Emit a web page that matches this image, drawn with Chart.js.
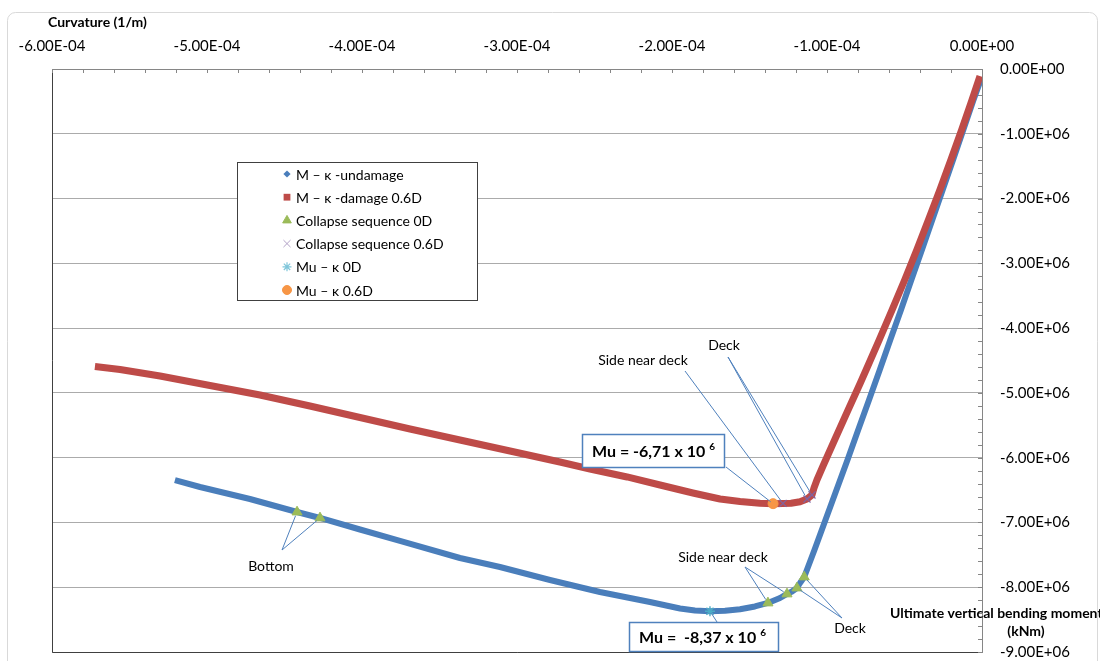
<!DOCTYPE html>
<html>
<head>
<meta charset="utf-8">
<title>Moment – curvature</title>
<script src="https://cdn.jsdelivr.net/npm/chart.js@4.4.1/dist/chart.umd.min.js"></script>
<style>
  html, body { margin: 0; padding: 0; background: #fff; }
  canvas { display: block; }
</style>
</head>
<body>
<canvas id="mk" width="1100" height="661"></canvas>
<script>
// Moment–curvature response of the hull girder (curvature in 1/m, moment in kNm)
const undamagedCurvature = [
  -0.006e-4, -0.055e-4, -0.121e-4, -0.187e-4, -0.254e-4, -0.321e-4, -0.388e-4, -0.456e-4,
  -0.523e-4, -0.592e-4, -0.660e-4, -0.729e-4, -0.799e-4, -0.868e-4, -0.939e-4, -1.010e-4,
  -1.081e-4, -1.147e-4, -1.174e-4, -1.194e-4, -1.226e-4, -1.258e-4, -1.303e-4, -1.381e-4,
  -1.465e-4, -1.561e-4, -1.658e-4, -1.755e-4, -1.852e-4, -1.948e-4, -2.142e-4, -2.465e-4,
  -2.787e-4, -3.110e-4, -3.368e-4, -3.755e-4, -4.013e-4, -4.271e-4, -4.419e-4, -4.723e-4,
  -5.045e-4, -5.207e-4
];
const undamagedMoment = [
  -0.154e6, -0.479e6, -0.942e6, -1.405e6, -1.868e6, -2.331e6, -2.794e6, -3.257e6,
  -3.720e6, -4.183e6, -4.647e6, -5.110e6, -5.573e6, -6.036e6, -6.499e6, -6.962e6,
  -7.425e6, -7.842e6, -7.935e6, -8.012e6, -8.066e6, -8.104e6, -8.166e6, -8.243e6,
  -8.297e6, -8.341e6, -8.364e6, -8.370e6, -8.359e6, -8.328e6, -8.228e6, -8.074e6,
  -7.888e6, -7.688e6, -7.549e6, -7.286e6, -7.109e6, -6.931e6, -6.839e6, -6.638e6,
  -6.453e6, -6.345e6
];

const damagedCurvature = [
  -0.013e-4, -0.065e-4, -0.132e-4, -0.201e-4, -0.272e-4, -0.346e-4, -0.421e-4, -0.499e-4,
  -0.580e-4, -0.663e-4, -0.748e-4, -0.785e-4, -0.864e-4, -0.951e-4, -1.023e-4, -1.065e-4,
  -1.084e-4, -1.097e-4, -1.129e-4, -1.174e-4, -1.232e-4, -1.284e-4, -1.348e-4, -1.432e-4,
  -1.561e-4, -1.690e-4, -1.865e-4, -2.077e-4, -2.290e-4, -2.529e-4, -2.723e-4, -3.045e-4,
  -3.368e-4, -3.690e-4, -4.013e-4, -4.336e-4, -4.658e-4, -4.981e-4, -5.303e-4, -5.561e-4,
  -5.723e-4
];
const damagedMoment = [
  -0.108e6, -0.479e6, -0.942e6, -1.405e6, -1.868e6, -2.331e6, -2.794e6, -3.257e6,
  -3.720e6, -4.183e6, -4.647e6, -4.847e6, -5.264e6, -5.727e6, -6.113e6, -6.345e6,
  -6.468e6, -6.576e6, -6.638e6, -6.681e6, -6.703e6, -6.706e6, -6.710e6, -6.703e6,
  -6.677e6, -6.638e6, -6.545e6, -6.422e6, -6.298e6, -6.175e6, -6.067e6, -5.897e6,
  -5.727e6, -5.557e6, -5.380e6, -5.202e6, -5.032e6, -4.886e6, -4.739e6, -4.639e6,
  -4.593e6
];

// Collapse sequence, intact hull: bottom (2), side near deck (2), deck (2)
const collapse0DCurvature = [-4.419e-4, -4.271e-4, -1.381e-4, -1.258e-4, -1.194e-4, -1.147e-4];
const collapse0DMoment    = [-6.839e6, -6.931e6, -8.243e6, -8.104e6, -8.012e6, -7.842e6];

// Collapse sequence, damaged hull: deck (2), side near deck (1)
const collapse06DCurvature = [-1.097e-4, -1.129e-4, -1.284e-4];
const collapse06DMoment    = [-6.576e6, -6.638e6, -6.706e6];

// Ultimate points
const mu0DCurvature  = [-1.755e-4];
const mu0DMoment     = [-8.37e6];
const mu06DCurvature = [-1.348e-4];
const mu06DMoment    = [-6.71e6];

// Axis ranges and ticks
const curvatureRange = [-6e-4, 0];
const curvatureStep = 1e-4;
const momentRange = [-9e6, 0];
const momentStep = 1e6;

const FONT = 'Lato, "Open Sans", "Liberation Sans", sans-serif';

function sci(v) {
  if (Math.abs(v) < 1e-15) v = 0;
  const parts = Number(v).toExponential(2).split('e');
  const e = parseInt(parts[1], 10);
  return parts[0] + 'E' + (e < 0 ? '-' : '+') + String(Math.abs(e)).padStart(2, '0');
}

function pts(xs, ys) {
  return xs.map((x, i) => ({ x: x, y: ys[i] }));
}

const drawPoint = Chart.helpers && Chart.helpers.drawPoint;

// Outer frame and white background
const framePlugin = {
  id: 'frame',
  beforeDraw(chart) {
    const ctx = chart.ctx;
    ctx.save();
    ctx.fillStyle = '#fff';
    ctx.fillRect(0, 0, chart.width, chart.height);
    ctx.strokeStyle = '#D9D9D9';
    ctx.lineWidth = 1;
    ctx.beginPath();
    ctx.roundRect(7.5, 12.5, 1090, 700, 8);
    ctx.stroke();
    ctx.restore();
  }
};

// Plot border (left/bottom) and small inward tick marks
const axisDecor = {
  id: 'axisDecor',
  beforeDatasetsDraw(chart) {
    const { x, y } = chart.scales;
    const ctx = chart.ctx;
    ctx.save();
    ctx.strokeStyle = '#404040';
    ctx.lineWidth = 1;
    ctx.beginPath();
    ctx.moveTo(Math.round(x.left) + 0.5, Math.round(y.top));
    ctx.lineTo(Math.round(x.left) + 0.5, Math.round(y.bottom) + 0.5);
    ctx.lineTo(Math.round(x.right), Math.round(y.bottom) + 0.5);
    ctx.stroke();

    ctx.strokeStyle = '#868686';
    ctx.beginPath();
    const nx = Math.round((x.max - x.min) / curvatureStep) * 5;
    for (let i = 0; i <= nx; i++) {
      const px = Math.round(x.getPixelForValue(x.min + i * (x.max - x.min) / nx)) + 0.5;
      ctx.moveTo(px, y.top);
      ctx.lineTo(px, y.top + 4);
    }
    const ny = Math.round((y.max - y.min) / momentStep) * 5;
    for (let i = 0; i <= ny; i++) {
      const py = Math.round(y.getPixelForValue(y.min + i * (y.max - y.min) / ny)) + 0.5;
      ctx.moveTo(x.right, py);
      ctx.lineTo(x.right - 4, py);
    }
    ctx.stroke();
    ctx.restore();
  }
};

// Leader-line callouts naming the collapsed members
const callouts = [
  { text: 'Side near deck', at: [643, 360], from: [685, 371], to: [['collapse06', 2]] },
  { text: 'Deck', at: [724, 345], from: [728, 357], to: [['collapse06', 1], ['collapse06', 0]] },
  { text: 'Side near deck', at: [723, 557], from: [745, 567], to: [['collapse0D', 2], ['collapse0D', 3]] },
  { text: 'Deck', at: [850, 628], from: [842, 618], to: [['collapse0D', 4], ['collapse0D', 5]] },
  { text: 'Bottom', at: [271, 566], from: [282, 550], to: [['collapse0D', 0], ['collapse0D', 1]] }
];
const muBoxes = [
  { main: 'Mu = -6,71 x 10', sup: '6', box: [582, 434, 142, 33], from: [726, 467], to: ['mu06D', 0] },
  { main: 'Mu =  -8,37 x 10', sup: '6', box: [629, 622, 149, 29], from: [717, 622], to: ['mu0D', 0] }
];

function markerPixel(chart, ref) {
  const idx = chart.data.datasets.findIndex(d => d.key === ref[0]);
  const p = chart.data.datasets[idx].data[ref[1]];
  return [chart.scales.x.getPixelForValue(p.x), chart.scales.y.getPixelForValue(p.y)];
}

function shorten(from, to, by) {
  const dx = to[0] - from[0], dy = to[1] - from[1];
  const len = Math.hypot(dx, dy);
  return [to[0] - dx / len * by, to[1] - dy / len * by];
}

const calloutPlugin = {
  id: 'callouts',
  afterDatasetsDraw(chart) {
    const ctx = chart.ctx;
    ctx.save();
    ctx.strokeStyle = '#4F81BD';
    ctx.lineWidth = 1;
    callouts.forEach(c => {
      c.to.forEach(ref => {
        const end = shorten(c.from, markerPixel(chart, ref), 4);
        ctx.beginPath();
        ctx.moveTo(c.from[0], c.from[1]);
        ctx.lineTo(end[0], end[1]);
        ctx.stroke();
      });
    });
    ctx.fillStyle = '#000';
    ctx.font = '14px ' + FONT;
    ctx.textAlign = 'center';
    ctx.textBaseline = 'middle';
    callouts.forEach(c => ctx.fillText(c.text, c.at[0], c.at[1]));

    muBoxes.forEach(m => {
      const end = shorten(m.from, markerPixel(chart, m.to), 3);
      ctx.strokeStyle = '#4F81BD';
      ctx.lineWidth = 1;
      ctx.beginPath();
      ctx.moveTo(m.from[0], m.from[1]);
      ctx.lineTo(end[0], end[1]);
      ctx.stroke();
      const [bx, by, bw, bh] = m.box;
      ctx.fillStyle = '#fff';
      ctx.fillRect(bx, by, bw, bh);
      ctx.lineWidth = 1.5;
      ctx.strokeRect(bx + 0.5, by + 0.5, bw, bh);
      ctx.fillStyle = '#000';
      ctx.textAlign = 'left';
      ctx.font = 'bold 16px ' + FONT;
      const tx = bx + 10, ty = by + bh / 2 + 1;
      ctx.fillText(m.main, tx, ty);
      const w = ctx.measureText(m.main).width;
      ctx.font = 'bold 10px ' + FONT;
      ctx.fillText(m.sup, tx + w + 4, ty - 5);
    });
    ctx.restore();
  }
};

// Legend box inside the plot, and the axis titles
const legendPlugin = {
  id: 'boxLegend',
  afterDraw(chart) {
    const ctx = chart.ctx;
    ctx.save();
    ctx.fillStyle = '#fff';
    ctx.fillRect(237, 162, 241, 139);
    ctx.strokeStyle = '#404040';
    ctx.lineWidth = 1;
    ctx.strokeRect(237.5, 162.5, 240, 138);
    ctx.font = '14px ' + FONT;
    ctx.textAlign = 'left';
    ctx.textBaseline = 'middle';
    chart.data.datasets.forEach((ds, i) => {
      const yy = 174 + i * 23.2;
      const mk = ds.legendMarker;
      ctx.fillStyle = ds.backgroundColor;
      ctx.strokeStyle = ds.legendMarker.stroke || ds.borderColor;
      ctx.lineWidth = mk.borderWidth;
      if (drawPoint) {
        drawPoint(ctx, { pointStyle: mk.pointStyle, radius: mk.radius, rotation: 0, borderWidth: mk.borderWidth }, 287, yy);
      }
      ctx.fillStyle = '#000';
      ctx.fillText(ds.label, 296, yy + 1);
    });

    ctx.font = 'bold 14px ' + FONT;
    ctx.fillText('Curvature (1/m)', 48, 22);
    ctx.fillText('Ultimate vertical bending moment', 890, 613);
    ctx.textAlign = 'center';
    ctx.fillText('(kNm)', 1026, 631);
    ctx.restore();
  }
};

new Chart(document.getElementById('mk'), {
  type: 'scatter',
  data: {
    datasets: [
      {
        key: 'undamaged', label: 'M – κ -undamage',
        data: pts(undamagedCurvature, undamagedMoment),
        showLine: true, borderColor: '#4A7EBB', backgroundColor: '#4A7EBB',
        borderWidth: 6, borderJoinStyle: 'round', pointRadius: 0, order: 6,
        legendMarker: { pointStyle: 'rectRot', radius: 3.6, borderWidth: 0 }
      },
      {
        key: 'damaged', label: 'M – κ -damage 0.6D',
        data: pts(damagedCurvature, damagedMoment),
        showLine: true, borderColor: '#BE4B48', backgroundColor: '#BE4B48',
        borderWidth: 7, borderJoinStyle: 'round', pointRadius: 0, order: 5,
        legendMarker: { pointStyle: 'rect', radius: 4.8, borderWidth: 0 }
      },
      {
        key: 'collapse0D', label: 'Collapse sequence 0D',
        data: pts(collapse0DCurvature, collapse0DMoment),
        borderColor: '#9BBB59', backgroundColor: '#9BBB59',
        pointStyle: 'triangle', pointRadius: 5.8, borderWidth: 1, order: 4,
        legendMarker: { pointStyle: 'triangle', radius: 5, borderWidth: 1 }
      },
      {
        key: 'collapse06', label: 'Collapse sequence 0.6D',
        data: pts(collapse06DCurvature, collapse06DMoment),
        borderColor: '#8064A2', backgroundColor: '#8064A2',
        pointStyle: 'crossRot', pointRadius: 5, borderWidth: 1.2, order: 3,
        legendMarker: { pointStyle: 'crossRot', radius: 5, borderWidth: 1, stroke: '#B3A2C7' }
      },
      {
        key: 'mu0D', label: 'Mu – κ 0D',
        data: pts(mu0DCurvature, mu0DMoment),
        borderColor: '#4BACC6', backgroundColor: '#4BACC6',
        pointStyle: 'star', pointRadius: 5, borderWidth: 1.4, order: 2,
        legendMarker: { pointStyle: 'star', radius: 4.5, borderWidth: 1.2, stroke: '#7FC6DA' }
      },
      {
        key: 'mu06D', label: 'Mu – κ 0.6D',
        data: pts(mu06DCurvature, mu06DMoment),
        borderColor: '#F79646', backgroundColor: '#F79646',
        pointStyle: 'circle', pointRadius: 5, borderWidth: 1, order: 1,
        legendMarker: { pointStyle: 'circle', radius: 4.5, borderWidth: 1 }
      }
    ]
  },
  options: {
    responsive: false,
    animation: false,
    devicePixelRatio: 1,
    events: [],
    layout: { padding: { left: 52, top: 0, right: 0, bottom: 9 } },
    plugins: {
      legend: { display: false },
      tooltip: { enabled: false },
      title: { display: false }
    },
    scales: {
      x: {
        type: 'linear', position: 'top',
        min: curvatureRange[0], max: curvatureRange[1],
        afterFit(scale) {
          scale.height = 69;
          scale.paddingLeft = 0; scale.paddingRight = 0;
        },
        grid: { display: false, drawTicks: false },
        border: { display: true, color: '#868686', width: 1 },
        ticks: {
          stepSize: curvatureStep, autoSkip: false, maxRotation: 0,
          padding: 14, color: '#000', font: { family: FONT, size: 15 },
          callback: v => sci(v)
        }
      },
      y: {
        type: 'linear', position: 'right',
        min: momentRange[0], max: momentRange[1],
        afterFit(scale) {
          scale.width = 118;
          scale.paddingTop = 0; scale.paddingBottom = 0;
        },
        grid: { color: '#ABABAB', lineWidth: 1, drawTicks: false },
        border: { display: true, color: '#868686', width: 1 },
        ticks: {
          stepSize: momentStep, autoSkip: false,
          padding: 18, color: '#000', font: { family: FONT, size: 15 },
          callback: v => sci(v)
        }
      }
    }
  },
  plugins: [framePlugin, axisDecor, calloutPlugin, legendPlugin]
});
</script>
</body>
</html>
